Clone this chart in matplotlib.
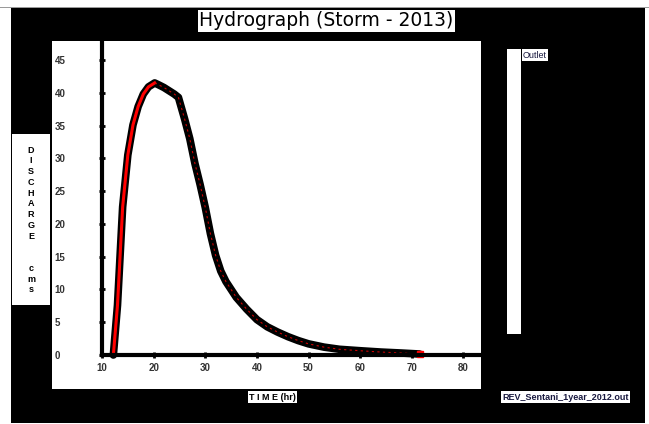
import matplotlib.pyplot as plt
from matplotlib.patches import Rectangle

# hydrograph
time_hr = [12.2, 13.0, 14.0, 15.0, 16.0, 17.0, 18.0, 19.0, 20.2, 21.0, 22.0, 23.0,
           24.0, 24.8, 26.0, 27.0, 28.0, 29.0, 30.0, 31.0, 32.0, 33.0, 34.0, 35.0,
           36.0, 38.0, 40.0, 42.0, 44.0, 46.0, 48.0, 50.0, 53.0, 56.0, 60.0, 64.0,
           68.0, 71.5]
discharge = [0.0, 7.6, 22.6, 30.5, 35.1, 37.9, 39.8, 40.9, 41.5, 41.2, 40.8, 40.3,
             39.8, 39.3, 36.0, 33.0, 29.2, 26.0, 22.5, 18.5, 15.2, 12.8, 11.2, 10.0,
             8.8, 7.0, 5.4, 4.3, 3.5, 2.8, 2.2, 1.7, 1.2, 0.87, 0.65, 0.45, 0.3, 0.15]

x_ticks = [10, 20, 30, 40, 50, 60, 70, 80]
y_ticks = [0, 5, 10, 15, 20, 25, 30, 35, 40, 45]

W, H = 649, 424
fig = plt.figure(figsize=(W / 100, H / 100), dpi=100)
fig.patch.set_facecolor('white')


def box(x0, y0, x1, y1, color, **kw):
    # pixel coords (top-left origin) -> figure fraction
    r = Rectangle((x0 / W, 1 - y1 / H), (x1 - x0) / W, (y1 - y0) / H,
                  transform=fig.transFigure, facecolor=color, edgecolor='none', **kw)
    fig.patches.append(r)


def label(x, y, s, **kw):
    fig.text(x / W, 1 - y / H, s, **kw)


box(0, 6.5, W, 8, '#9a9a9a')
box(11, 8, 645, 423, 'black')
box(52, 41, 481, 389, 'white')
box(507, 49, 521, 334, 'white')
box(12, 134, 50, 305, 'white')

ax = fig.add_axes([102 / W, 1 - 355 / H, (480 - 102) / W, (355 - 41) / H])
ax.set_zorder(5)
ax.set_facecolor('white')
ax.plot(time_hr, discharge, color='black', lw=5.5, solid_capstyle='round', zorder=2,
        clip_on=False)
# rising limb shows more red than the recession
ax.plot(time_hr[:9], discharge[:9], color='red', lw=2.2, zorder=3, clip_on=False)
ax.plot(time_hr[8:], discharge[8:], color='#d00000', lw=0.8, ls=(0, (2, 3)),
        zorder=3, clip_on=False)
ax.plot(time_hr[-1], discharge[-1], 's', color='red', ms=4, zorder=4, clip_on=False)

ax.set_xlim(10, 83.2)
ax.set_ylim(0, 47.9)
ax.set_xticks(x_ticks)
ax.set_yticks(y_ticks)
for s in ['top', 'right']:
    ax.spines[s].set_visible(False)
for s in ['left', 'bottom']:
    ax.spines[s].set_linewidth(3)
    ax.spines[s].set_zorder(6)
ax.tick_params(direction='inout', length=4, width=2, labelsize=7)
ax.tick_params(axis='y', pad=32)
ax.tick_params(axis='x', pad=4)
for t in ax.get_yticklabels():
    t.set_horizontalalignment('left')
for t in ax.get_xticklabels() + ax.get_yticklabels():
    t.set_fontfamily('Liberation Sans')
    t.set_fontweight('bold')
    t.set_color('#333333')

label(326.5, 21, 'Hydrograph (Storm - 2013)', fontsize=13.5, ha='center', va='center',
      family='DejaVu Sans',
      bbox=dict(facecolor='white', edgecolor='none', pad=1.2))
label(31, 220, 'D\nI\nS\nC\nH\nA\nR\nG\nE\n\n\nc\nm\ns', fontsize=6.5, ha='center',
      va='center', family='Liberation Sans', fontweight='bold', linespacing=1.25)
label(272.5, 397, 'T I M E (hr)', fontsize=6.5, ha='center', va='center',
      family='Liberation Sans', fontweight='bold',
      bbox=dict(facecolor='white', edgecolor='none', pad=1))
label(565.5, 397, 'REV_Sentani_1year_2012.out', fontsize=6.5, ha='center', va='center',
      family='Liberation Sans', fontweight='bold', color='#1a1a40',
      bbox=dict(facecolor='white', edgecolor='none', pad=1))
label(523, 55, 'Outlet', fontsize=6.5, ha='left', va='center',
      family='Liberation Sans', color='#1a1a40',
      bbox=dict(facecolor='white', edgecolor='none', pad=1))

fig.savefig('out.png', dpi=100)
